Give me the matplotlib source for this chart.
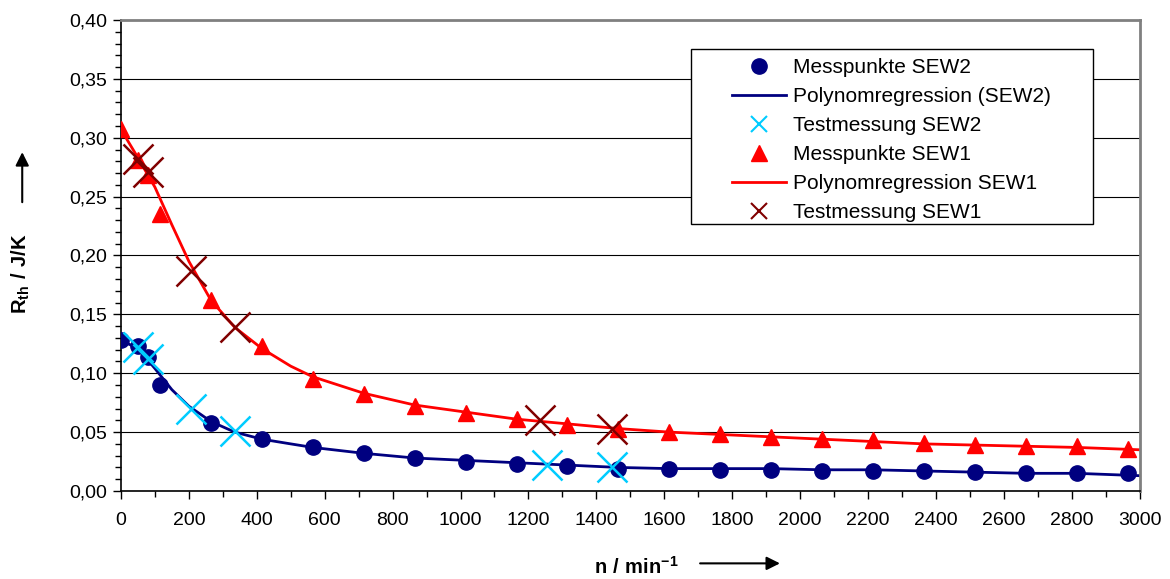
import matplotlib.pyplot as plt
import numpy as np
from matplotlib.lines import Line2D
from matplotlib.patches import Rectangle
from matplotlib.ticker import MultipleLocator, FuncFormatter

plt.rcParams['font.family'] = ['Liberation Sans', 'DejaVu Sans']
plt.rcParams['mathtext.fontset'] = 'custom'
plt.rcParams['mathtext.rm'] = 'Liberation Sans'
plt.rcParams['mathtext.bf'] = 'Liberation Sans:bold'

# Messpunkte (Drehzahl in 1/min)
n_mess = [0, 50, 80, 115, 265, 415, 565, 715, 865, 1015, 1165, 1315, 1465,
          1615, 1765, 1915, 2065, 2215, 2365, 2515, 2665, 2815, 2965]
r_sew2 = [0.128, 0.123, 0.114, 0.090, 0.058, 0.044, 0.037, 0.032, 0.028, 0.025,
          0.023, 0.021, 0.019, 0.019, 0.018, 0.018, 0.017, 0.017, 0.017, 0.016,
          0.015, 0.015, 0.015]
r_sew1 = [0.307, 0.281, 0.268, 0.235, 0.162, 0.123, 0.095, 0.082, 0.072, 0.066,
          0.061, 0.056, 0.053, 0.050, 0.048, 0.046, 0.044, 0.043, 0.041, 0.039,
          0.038, 0.038, 0.036]

# Regressionskurven
n_fit = [0, 50, 100, 150, 200, 265, 335, 415, 500, 565, 715, 865, 1015, 1165,
         1315, 1465, 1615, 1765, 1915, 2065, 2215, 2365, 2515, 2665, 2815, 3000]
fit_sew2 = [0.128, 0.121, 0.104, 0.086, 0.072, 0.059, 0.050, 0.044, 0.040, 0.037,
            0.032, 0.028, 0.026, 0.024, 0.022, 0.020, 0.019, 0.019, 0.019, 0.018,
            0.018, 0.017, 0.016, 0.015, 0.015, 0.013]
fit_sew1 = [0.307, 0.283, 0.258, 0.226, 0.195, 0.162, 0.139, 0.121, 0.106, 0.097,
            0.083, 0.073, 0.067, 0.061, 0.057, 0.053, 0.050, 0.048, 0.046, 0.044,
            0.042, 0.040, 0.039, 0.038, 0.037, 0.035]

# Testmessungen
n_test2 = [50, 80, 205, 335, 1255, 1445]
r_test2 = [0.122, 0.112, 0.070, 0.051, 0.022, 0.020]
n_test1 = [50, 80, 205, 335, 1235, 1445]
r_test1 = [0.282, 0.271, 0.187, 0.139, 0.060, 0.053]

navy = '#000080'
cyan = '#00CCFF'
red = '#FF0000'
dred = '#800000'

fig = plt.figure(figsize=(11.7, 5.79), dpi=100)
ax = fig.add_axes([0.1034, 0.152, 0.8706, 0.8135])

ax.plot(n_fit, fit_sew2, color=navy, linewidth=2, zorder=2)
ax.plot(n_fit, fit_sew1, color=red, linewidth=2, zorder=2)
ax.plot(n_mess, r_sew2, 'o', color=navy, markersize=11, zorder=3)
ax.plot(n_mess, r_sew1, '^', color=red, markersize=11, zorder=3)
ax.plot(n_test2, r_test2, 'x', color=cyan, markersize=21, markeredgewidth=1.8, zorder=4)
ax.plot(n_test1, r_test1, 'x', color=dred, markersize=21, markeredgewidth=1.8, zorder=4)

ax.set_xlim(0, 3000)
ax.set_ylim(0, 0.40)
ax.xaxis.set_major_locator(MultipleLocator(200))
ax.xaxis.set_minor_locator(MultipleLocator(100))
ax.yaxis.set_major_locator(MultipleLocator(0.05))
ax.yaxis.set_minor_locator(MultipleLocator(0.01))
ax.yaxis.set_major_formatter(FuncFormatter(lambda v, p: f"{v:.2f}".replace('.', ',')))
ax.tick_params(axis='both', which='major', labelsize=14, length=6, width=1, direction='out')
ax.tick_params(axis='both', which='minor', length=4, width=1, direction='out')
ax.tick_params(axis='x', pad=9)
ax.tick_params(axis='y', pad=4)
ax.grid(True, axis='y', which='major', color='black', linewidth=0.8)
ax.set_axisbelow(True)

for side in ['top', 'right']:
    ax.spines[side].set_color('#808080')
    ax.spines[side].set_linewidth(2)
for side in ['left', 'bottom']:
    ax.spines[side].set_color('black')
    ax.spines[side].set_linewidth(1.2)

# Achsenbeschriftungen mit Pfeilen
fig.text(0.018, 0.527, r'$\mathbf{R_{th}\ /\ J/K}$', rotation=90, fontsize=14.5,
         ha='center', va='center')
fig.add_artist(plt.Annotation('', xy=(0.019, 0.742), xytext=(0.019, 0.646),
                              xycoords='figure fraction',
                              arrowprops=dict(arrowstyle='-|>', color='black', lw=1.5,
                                              mutation_scale=20)))
fig.text(0.5436, 0.021, r'$\mathbf{n\ /\ min^{-1}}$', fontsize=14.5,
         ha='center', va='center')
fig.add_artist(plt.Annotation('', xy=(0.669, 0.027), xytext=(0.596, 0.027),
                              xycoords='figure fraction',
                              arrowprops=dict(arrowstyle='-|>', color='black', lw=1.5,
                                              mutation_scale=20)))

# Legende mit eigenem Rahmen
handles = [
    Line2D([], [], linestyle='none', marker='o', color=navy, markersize=11),
    Line2D([], [], color=navy, linewidth=2),
    Line2D([], [], linestyle='none', marker='x', color=cyan, markersize=11, markeredgewidth=1.5),
    Line2D([], [], linestyle='none', marker='^', color=red, markersize=11),
    Line2D([], [], color=red, linewidth=2),
    Line2D([], [], linestyle='none', marker='x', color=dred, markersize=11, markeredgewidth=1.5),
]
labels = ['Messpunkte SEW2', 'Polynomregression (SEW2)', 'Testmessung SEW2',
          'Messpunkte SEW1', 'Polynomregression SEW1', 'Testmessung SEW1']
leg = ax.legend(handles, labels, loc='upper left', bbox_to_anchor=(0.594, 0.932),
                fontsize=15, frameon=False, handlelength=2.6,
                labelspacing=0.48, borderpad=0.3, handletextpad=0.3,
                borderaxespad=0)
ax.add_patch(Rectangle((0.560, 0.567), 0.3945, 0.3716, transform=ax.transAxes,
                       facecolor='white', edgecolor='black', linewidth=1, zorder=5))
leg.set_zorder(6)

fig.savefig('out.png', dpi=100)
